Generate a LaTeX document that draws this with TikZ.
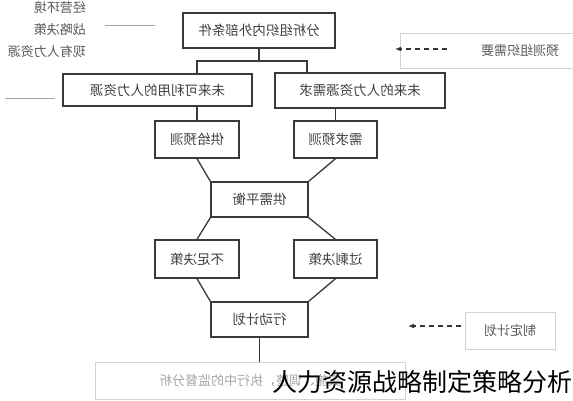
\documentclass[tikz,border=0pt]{standalone}
\usepackage{fontspec}
\setmainfont{Noto Sans CJK SC}
\usetikzlibrary{arrows.meta,positioning,calc}
\definecolor{boxline}{HTML}{3A3A3A}
\definecolor{faint}{HTML}{D2D2D2}
\definecolor{rule}{HTML}{A9A99E}
\newcommand{\mirr}[1]{\reflectbox{#1}}

\begin{document}
\begin{tikzpicture}[x=1pt, y=-1pt,
  blk/.style={draw=boxline, line width=1.3pt, rectangle, inner sep=0pt,
    fill=white, text=black!75, font=\fontsize{13.5}{16}\selectfont},
  pale/.style={draw=faint, line width=0.9pt, rectangle, inner sep=0pt,
    fill=white, text=black!65, font=\fontsize{13}{16}\selectfont},
  lnk/.style={draw=boxline, line width=1.3pt},
  dsh/.style={-{Latex[length=6pt,width=5pt]}, dash pattern=on 5pt off 4pt,
    line width=1.3pt, draw=black!80},
  lbl/.style={font=\fontsize{13}{16}\selectfont, text=black!65,
    inner sep=0pt, anchor=east},
]
\useasboundingbox (0,0) rectangle (573,400);
% factors on the left
\node[lbl] (env) at (86,8) {\mirr{经营环境}};
\node[lbl] (strat) at (86,30) {\mirr{战略决策}};
\node[lbl] (hr) at (86,52) {\mirr{现有人力资源}};
\coordinate (ra) at (105,25); \coordinate (rb) at (155,25);
\coordinate (rc) at (5,98); \coordinate (rd) at (55,98);
\draw[rule, line width=1pt] (ra) -- (rb);
\draw[rule, line width=1pt] (rc) -- (rd);
% main chain
\node[blk, minimum width=152, minimum height=35] (top) at (259,30.5) {\mirr{分析组织内外部条件}};
\node[blk, minimum width=189, minimum height=32] (avl) at (157.5,90) {\mirr{未来可利用的人力资源}};
\node[blk, minimum width=170, minimum height=35] (need) at (360,90.5) {\mirr{未来的人力资源需求}};
\node[blk, minimum width=84, minimum height=37] (sup) at (197,139.5) {\mirr{供给预测}};
\node[blk, minimum width=83, minimum height=37] (dem) at (335.5,139.5) {\mirr{需求预测}};
\node[blk, minimum width=97, minimum height=35] (bal) at (259.5,199.5) {\mirr{供需平衡}};
\node[blk, minimum width=84, minimum height=38] (short) at (197,259) {\mirr{不足决策}};
\node[blk, minimum width=83, minimum height=38] (surp) at (335.5,259) {\mirr{过剩决策}};
\node[blk, minimum width=97, minimum height=35] (act) at (259.5,319.5) {\mirr{行动计划}};
\node[pale, minimum width=310, minimum height=37, text=black!35] (exec) at (250,381) {\mirr{实施、调整，执行中的监督分析}};
% side boxes
\node[pale, minimum width=239, minimum height=35] (fore) at (520,50.5) {\mirr{预测组织需要}};
\node[pale, minimum width=90, minimum height=37] (plan) at (510,330.5) {\mirr{制定计划}};
\coordinate (fa) at (447,49); \coordinate (fb) at (395,49);
\coordinate (pa) at (461,326); \coordinate (pb) at (408,326);
\draw[dsh] (fa) -- (fb);
\draw[dsh] (pa) -- (pb);
% connectors
\coordinate (jn) at (top.south |- 0,61);
\draw[lnk] (top.south) -- (jn);
\draw[lnk] (jn) -| (sup |- avl.north);
\draw[lnk] (jn) -| (307,0 |- need.north);
\draw[lnk] (sup |- avl.south) -- (sup.north);
\draw[lnk] (dem |- need.south) -- (dem.north);
\draw[lnk] (sup.south) -- (bal.north west);
\draw[lnk] (dem.south) -- (bal.north east);
\draw[lnk] (bal.south west) -- (short.north);
\draw[lnk] (bal.south east) -- (surp.north);
\draw[lnk] (short.south) -- (act.north west);
\draw[lnk] (surp.south) -- (act.north east);
\draw[lnk, line width=1pt] (act.south) -- (act.south |- exec.north);
% caption over the bottom
\node[inner sep=0pt, anchor=east, font=\fontsize{25}{30}\selectfont] (cap) at (573,382) {人力资源战略制定策略分析};
\end{tikzpicture}
\end{document}
